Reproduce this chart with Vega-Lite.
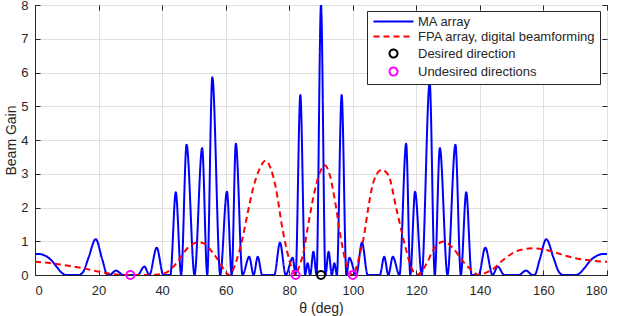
{
  "$schema": "https://vega.github.io/schema/vega-lite/v6.json",
  "width": 572,
  "height": 270,
  "autosize": "none",
  "padding": {"left": 35, "top": 5, "right": 11, "bottom": 41},
  "config": {
    "font": "Liberation Sans",
    "view": {"stroke": "#262626", "strokeWidth": 1},
    "axis": {
      "domainColor": "#262626",
      "tickColor": "#262626",
      "gridColor": "#e0e0e0",
      "gridWidth": 1,
      "labelColor": "#262626",
      "labelFontSize": 13,
      "titleColor": "#262626",
      "titleFontSize": 14,
      "titleFontWeight": "normal"
    }
  },
  "datasets": {
    "curves": [
      {"theta": 0, "gain": 0.62, "series": "MA array"},
      {"theta": 1.5, "gain": 0.62, "series": "MA array"},
      {"theta": 3, "gain": 0.58, "series": "MA array"},
      {"theta": 5, "gain": 0.45, "series": "MA array"},
      {"theta": 7, "gain": 0.22, "series": "MA array"},
      {"theta": 8.5, "gain": 0.06, "series": "MA array"},
      {"theta": 9.8, "gain": 0.0, "series": "MA array"},
      {"theta": 13.8, "gain": 0.0, "series": "MA array"},
      {"theta": 15.2, "gain": 0.1, "series": "MA array"},
      {"theta": 16.8, "gain": 0.5, "series": "MA array"},
      {"theta": 19.1, "gain": 1.06, "series": "MA array"},
      {"theta": 21.2, "gain": 0.45, "series": "MA array"},
      {"theta": 22.8, "gain": 0.0, "series": "MA array"},
      {"theta": 23.4, "gain": 0.0, "series": "MA array"},
      {"theta": 25.5, "gain": 0.13, "series": "MA array"},
      {"theta": 27.8, "gain": 0.0, "series": "MA array"},
      {"theta": 32.3, "gain": 0.0, "series": "MA array"},
      {"theta": 34.4, "gain": 0.25, "series": "MA array"},
      {"theta": 36.0, "gain": 0.0, "series": "MA array"},
      {"theta": 38.3, "gain": 0.81, "series": "MA array"},
      {"theta": 40.4, "gain": 0.0, "series": "MA array"},
      {"theta": 42.6, "gain": 0.0, "series": "MA array"},
      {"theta": 44.3, "gain": 2.45, "series": "MA array"},
      {"theta": 46.0, "gain": 0.0, "series": "MA array"},
      {"theta": 47.7, "gain": 3.86, "series": "MA array"},
      {"theta": 50.2, "gain": 0.0, "series": "MA array"},
      {"theta": 52.6, "gain": 3.76, "series": "MA array"},
      {"theta": 54.2, "gain": 0.0, "series": "MA array"},
      {"theta": 55.8, "gain": 5.86, "series": "MA array"},
      {"theta": 58.3, "gain": 0.0, "series": "MA array"},
      {"theta": 60.4, "gain": 2.47, "series": "MA array"},
      {"theta": 61.9, "gain": 0.0, "series": "MA array"},
      {"theta": 63.2, "gain": 3.89, "series": "MA array"},
      {"theta": 65.3, "gain": 0.0, "series": "MA array"},
      {"theta": 67.4, "gain": 0.54, "series": "MA array"},
      {"theta": 68.8, "gain": 0.0, "series": "MA array"},
      {"theta": 70.1, "gain": 0.54, "series": "MA array"},
      {"theta": 71.5, "gain": 0.0, "series": "MA array"},
      {"theta": 75.3, "gain": 0.0, "series": "MA array"},
      {"theta": 77.1, "gain": 0.96, "series": "MA array"},
      {"theta": 78.9, "gain": 0.0, "series": "MA array"},
      {"theta": 81.1, "gain": 0.51, "series": "MA array"},
      {"theta": 82.0, "gain": 0.0, "series": "MA array"},
      {"theta": 83.5, "gain": 5.33, "series": "MA array"},
      {"theta": 85.0, "gain": 0.0, "series": "MA array"},
      {"theta": 85.8, "gain": 0.35, "series": "MA array"},
      {"theta": 86.6, "gain": 0.0, "series": "MA array"},
      {"theta": 87.6, "gain": 0.69, "series": "MA array"},
      {"theta": 88.6, "gain": 0.0, "series": "MA array"},
      {"theta": 90.0, "gain": 8.0, "series": "MA array"},
      {"theta": 91.4, "gain": 0.0, "series": "MA array"},
      {"theta": 92.4, "gain": 0.69, "series": "MA array"},
      {"theta": 93.4, "gain": 0.0, "series": "MA array"},
      {"theta": 94.2, "gain": 0.35, "series": "MA array"},
      {"theta": 95.0, "gain": 0.0, "series": "MA array"},
      {"theta": 96.5, "gain": 5.33, "series": "MA array"},
      {"theta": 98.0, "gain": 0.0, "series": "MA array"},
      {"theta": 98.9, "gain": 0.51, "series": "MA array"},
      {"theta": 101.1, "gain": 0.0, "series": "MA array"},
      {"theta": 102.9, "gain": 0.96, "series": "MA array"},
      {"theta": 104.7, "gain": 0.0, "series": "MA array"},
      {"theta": 108.5, "gain": 0.0, "series": "MA array"},
      {"theta": 109.9, "gain": 0.54, "series": "MA array"},
      {"theta": 111.2, "gain": 0.0, "series": "MA array"},
      {"theta": 112.6, "gain": 0.54, "series": "MA array"},
      {"theta": 114.7, "gain": 0.0, "series": "MA array"},
      {"theta": 116.8, "gain": 3.89, "series": "MA array"},
      {"theta": 118.1, "gain": 0.0, "series": "MA array"},
      {"theta": 119.6, "gain": 2.47, "series": "MA array"},
      {"theta": 121.7, "gain": 0.0, "series": "MA array"},
      {"theta": 124.2, "gain": 5.7, "series": "MA array"},
      {"theta": 125.8, "gain": 0.0, "series": "MA array"},
      {"theta": 127.4, "gain": 3.76, "series": "MA array"},
      {"theta": 129.8, "gain": 0.0, "series": "MA array"},
      {"theta": 132.3, "gain": 3.86, "series": "MA array"},
      {"theta": 134.0, "gain": 0.0, "series": "MA array"},
      {"theta": 135.7, "gain": 2.45, "series": "MA array"},
      {"theta": 137.4, "gain": 0.0, "series": "MA array"},
      {"theta": 139.6, "gain": 0.0, "series": "MA array"},
      {"theta": 141.7, "gain": 0.81, "series": "MA array"},
      {"theta": 144.0, "gain": 0.0, "series": "MA array"},
      {"theta": 145.6, "gain": 0.25, "series": "MA array"},
      {"theta": 147.7, "gain": 0.0, "series": "MA array"},
      {"theta": 152.2, "gain": 0.0, "series": "MA array"},
      {"theta": 154.5, "gain": 0.13, "series": "MA array"},
      {"theta": 156.6, "gain": 0.0, "series": "MA array"},
      {"theta": 157.2, "gain": 0.0, "series": "MA array"},
      {"theta": 158.8, "gain": 0.45, "series": "MA array"},
      {"theta": 160.9, "gain": 1.06, "series": "MA array"},
      {"theta": 163.2, "gain": 0.5, "series": "MA array"},
      {"theta": 164.8, "gain": 0.1, "series": "MA array"},
      {"theta": 166.2, "gain": 0.0, "series": "MA array"},
      {"theta": 170.2, "gain": 0.0, "series": "MA array"},
      {"theta": 171.5, "gain": 0.06, "series": "MA array"},
      {"theta": 173, "gain": 0.22, "series": "MA array"},
      {"theta": 175, "gain": 0.45, "series": "MA array"},
      {"theta": 177, "gain": 0.58, "series": "MA array"},
      {"theta": 178.5, "gain": 0.62, "series": "MA array"},
      {"theta": 180, "gain": 0.62, "series": "MA array"},

      {"theta": 0, "gain": 0.39, "series": "FPA array, digital beamforming"},
      {"theta": 5, "gain": 0.35, "series": "FPA array, digital beamforming"},
      {"theta": 10, "gain": 0.28, "series": "FPA array, digital beamforming"},
      {"theta": 15, "gain": 0.2, "series": "FPA array, digital beamforming"},
      {"theta": 20, "gain": 0.1, "series": "FPA array, digital beamforming"},
      {"theta": 24, "gain": 0.03, "series": "FPA array, digital beamforming"},
      {"theta": 28, "gain": 0.0, "series": "FPA array, digital beamforming"},
      {"theta": 34, "gain": 0.0, "series": "FPA array, digital beamforming"},
      {"theta": 38, "gain": 0.01, "series": "FPA array, digital beamforming"},
      {"theta": 41, "gain": 0.06, "series": "FPA array, digital beamforming"},
      {"theta": 43.5, "gain": 0.24, "series": "FPA array, digital beamforming"},
      {"theta": 45.6, "gain": 0.49, "series": "FPA array, digital beamforming"},
      {"theta": 48, "gain": 0.8, "series": "FPA array, digital beamforming"},
      {"theta": 51.4, "gain": 0.97, "series": "FPA array, digital beamforming"},
      {"theta": 53.5, "gain": 0.92, "series": "FPA array, digital beamforming"},
      {"theta": 56, "gain": 0.65, "series": "FPA array, digital beamforming"},
      {"theta": 58.3, "gain": 0.35, "series": "FPA array, digital beamforming"},
      {"theta": 60.0, "gain": 0.08, "series": "FPA array, digital beamforming"},
      {"theta": 61.3, "gain": 0.0, "series": "FPA array, digital beamforming"},
      {"theta": 63.1, "gain": 0.35, "series": "FPA array, digital beamforming"},
      {"theta": 65.2, "gain": 1.04, "series": "FPA array, digital beamforming"},
      {"theta": 66.9, "gain": 1.83, "series": "FPA array, digital beamforming"},
      {"theta": 68.5, "gain": 2.52, "series": "FPA array, digital beamforming"},
      {"theta": 70.5, "gain": 3.11, "series": "FPA array, digital beamforming"},
      {"theta": 72.6, "gain": 3.39, "series": "FPA array, digital beamforming"},
      {"theta": 74.2, "gain": 3.15, "series": "FPA array, digital beamforming"},
      {"theta": 75.7, "gain": 2.62, "series": "FPA array, digital beamforming"},
      {"theta": 78.0, "gain": 1.3, "series": "FPA array, digital beamforming"},
      {"theta": 80.0, "gain": 0.45, "series": "FPA array, digital beamforming"},
      {"theta": 81.2, "gain": 0.1, "series": "FPA array, digital beamforming"},
      {"theta": 82.0, "gain": 0.0, "series": "FPA array, digital beamforming"},
      {"theta": 83.0, "gain": 0.22, "series": "FPA array, digital beamforming"},
      {"theta": 84.4, "gain": 0.64, "series": "FPA array, digital beamforming"},
      {"theta": 86.0, "gain": 1.5, "series": "FPA array, digital beamforming"},
      {"theta": 87.8, "gain": 2.4, "series": "FPA array, digital beamforming"},
      {"theta": 89.5, "gain": 3.0, "series": "FPA array, digital beamforming"},
      {"theta": 91.2, "gain": 3.25, "series": "FPA array, digital beamforming"},
      {"theta": 92.8, "gain": 2.95, "series": "FPA array, digital beamforming"},
      {"theta": 94.4, "gain": 2.2, "series": "FPA array, digital beamforming"},
      {"theta": 96.0, "gain": 1.23, "series": "FPA array, digital beamforming"},
      {"theta": 97.6, "gain": 0.45, "series": "FPA array, digital beamforming"},
      {"theta": 99.0, "gain": 0.08, "series": "FPA array, digital beamforming"},
      {"theta": 100.1, "gain": 0.0, "series": "FPA array, digital beamforming"},
      {"theta": 101.2, "gain": 0.25, "series": "FPA array, digital beamforming"},
      {"theta": 102.3, "gain": 0.64, "series": "FPA array, digital beamforming"},
      {"theta": 103.3, "gain": 1.04, "series": "FPA array, digital beamforming"},
      {"theta": 104.9, "gain": 2.0, "series": "FPA array, digital beamforming"},
      {"theta": 106.0, "gain": 2.57, "series": "FPA array, digital beamforming"},
      {"theta": 107.5, "gain": 2.98, "series": "FPA array, digital beamforming"},
      {"theta": 109.1, "gain": 3.12, "series": "FPA array, digital beamforming"},
      {"theta": 111.2, "gain": 2.96, "series": "FPA array, digital beamforming"},
      {"theta": 113.8, "gain": 1.93, "series": "FPA array, digital beamforming"},
      {"theta": 116.4, "gain": 0.89, "series": "FPA array, digital beamforming"},
      {"theta": 118.5, "gain": 0.2, "series": "FPA array, digital beamforming"},
      {"theta": 120.2, "gain": 0.0, "series": "FPA array, digital beamforming"},
      {"theta": 122.0, "gain": 0.15, "series": "FPA array, digital beamforming"},
      {"theta": 123.3, "gain": 0.35, "series": "FPA array, digital beamforming"},
      {"theta": 125.3, "gain": 0.74, "series": "FPA array, digital beamforming"},
      {"theta": 128.5, "gain": 0.99, "series": "FPA array, digital beamforming"},
      {"theta": 131.6, "gain": 0.79, "series": "FPA array, digital beamforming"},
      {"theta": 134.8, "gain": 0.39, "series": "FPA array, digital beamforming"},
      {"theta": 137.9, "gain": 0.1, "series": "FPA array, digital beamforming"},
      {"theta": 139.5, "gain": 0.0, "series": "FPA array, digital beamforming"},
      {"theta": 141.5, "gain": 0.05, "series": "FPA array, digital beamforming"},
      {"theta": 144.2, "gain": 0.18, "series": "FPA array, digital beamforming"},
      {"theta": 147.0, "gain": 0.42, "series": "FPA array, digital beamforming"},
      {"theta": 149.5, "gain": 0.6, "series": "FPA array, digital beamforming"},
      {"theta": 153.0, "gain": 0.75, "series": "FPA array, digital beamforming"},
      {"theta": 156.8, "gain": 0.79, "series": "FPA array, digital beamforming"},
      {"theta": 160.0, "gain": 0.76, "series": "FPA array, digital beamforming"},
      {"theta": 163.1, "gain": 0.69, "series": "FPA array, digital beamforming"},
      {"theta": 166.5, "gain": 0.58, "series": "FPA array, digital beamforming"},
      {"theta": 170.5, "gain": 0.49, "series": "FPA array, digital beamforming"},
      {"theta": 175.0, "gain": 0.43, "series": "FPA array, digital beamforming"},
      {"theta": 180.0, "gain": 0.39, "series": "FPA array, digital beamforming"}
    ],
    "markers": [
      {"theta": 90, "gain": 0, "series": "Desired direction"},
      {"theta": 30, "gain": 0, "series": "Undesired directions"},
      {"theta": 82, "gain": 0, "series": "Undesired directions"},
      {"theta": 100, "gain": 0, "series": "Undesired directions"}
    ]
  },
  "resolve": {"axis": {"x": "independent", "y": "independent"}},
  "layer": [
    {
      "data": {"name": "curves"},
      "mark": {"type": "line", "interpolate": "monotone", "strokeWidth": 2, "clip": true},
      "encoding": {
        "x": {"field": "theta", "type": "quantitative",
              "scale": {"domain": [0, 180], "nice": false, "zero": false},
              "axis": {"orient": "bottom", "values": [0, 20, 40, 60, 80, 100, 120, 140, 160, 180], "grid": true,
                       "ticks": false, "tickSize": 0, "labelPadding": 9,
                       "title": "θ (deg)", "titleY": 37, "titleBaseline": "alphabetic"}},
        "y": {"field": "gain", "type": "quantitative",
              "scale": {"domain": [0, 8], "nice": false},
              "axis": {"orient": "left", "values": [0, 1, 2, 3, 4, 5, 6, 7, 8], "grid": true,
                       "ticks": false, "tickSize": 0, "labelPadding": 7,
                       "title": "Beam Gain", "titleX": -20, "titleY": 135, "titleAngle": -90,
                       "titleAlign": "center", "titleBaseline": "alphabetic"}},
        "color": {"field": "series", "type": "nominal",
                  "scale": {"domain": ["MA array", "FPA array, digital beamforming", "Desired direction", "Undesired directions"],
                            "range": ["#0000ff", "#ff0000", "#000000", "#ff00ff"]},
                  "legend": {"orient": "none", "legendX": 332, "legendY": 6, "title": null,
                             "strokeColor": "#262626", "fillColor": "white", "padding": 4,
                             "symbolType": "stroke", "symbolSize": 1600, "symbolStrokeWidth": 2,
                             "symbolOffset": 16,
                             "labelFontSize": 13, "labelColor": "#262626", "labelOffset": 18, "labelLimit": 400,
                             "rowPadding": 1,
                             "encode": {"symbols": {"update": {
                               "shape": {"signal": "datum.value == 'MA array' || datum.value == 'FPA array, digital beamforming' ? 'stroke' : 'circle'"},
                               "size": {"signal": "datum.value == 'MA array' || datum.value == 'FPA array, digital beamforming' ? 1600 : 64"},
                               "strokeDash": {"signal": "datum.value == 'FPA array, digital beamforming' ? [6,4] : [1,0]"},
                               "fill": {"value": "transparent"},
                               "strokeWidth": {"value": 2},
                               "opacity": {"value": 1}
                             }}}}},
        "strokeDash": {"field": "series", "type": "nominal",
                       "scale": {"domain": ["MA array", "FPA array, digital beamforming"], "range": [[1, 0], [6, 4]]},
                       "legend": null}
      }
    },
    {
      "data": {"name": "markers"},
      "mark": {"type": "point", "filled": false, "size": 64, "strokeWidth": 2, "opacity": 1},
      "encoding": {
        "x": {"field": "theta", "type": "quantitative",
              "axis": {"orient": "top", "values": [0, 20, 40, 60, 80, 100, 120, 140, 160, 180], "grid": false,
                       "labels": false, "domain": false, "ticks": true, "tickSize": 5, "offset": -5, "title": null}},
        "y": {"field": "gain", "type": "quantitative",
              "axis": {"orient": "right", "values": [0, 1, 2, 3, 4, 5, 6, 7, 8], "grid": false,
                       "labels": false, "domain": false, "ticks": true, "tickSize": 5, "offset": -5, "title": null}},
        "color": {"field": "series", "type": "nominal"}
      }
    },
    {
      "data": {"name": "markers"},
      "mark": {"type": "point", "opacity": 0},
      "encoding": {
        "x": {"field": "theta", "type": "quantitative",
              "axis": {"orient": "bottom", "values": [0, 20, 40, 60, 80, 100, 120, 140, 160, 180], "grid": false,
                       "labels": false, "domain": false, "ticks": true, "tickSize": 5, "offset": -5, "title": null}},
        "y": {"field": "gain", "type": "quantitative",
              "axis": {"orient": "left", "values": [0, 1, 2, 3, 4, 5, 6, 7, 8], "grid": false,
                       "labels": false, "domain": false, "ticks": true, "tickSize": 5, "offset": -5, "title": null}}
      }
    }
  ]
}
